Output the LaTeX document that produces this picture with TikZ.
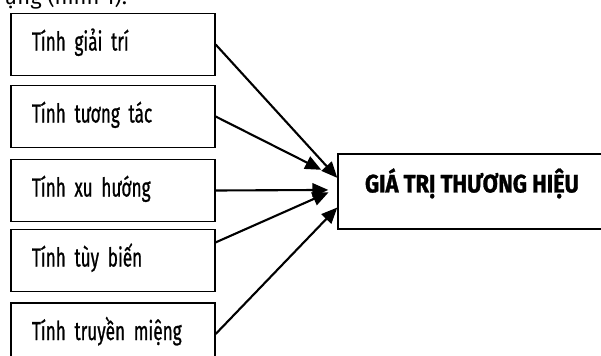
\documentclass[tikz,border=0pt]{standalone}
\usepackage{fontspec}
\setmainfont{Fira Sans}[FakeStretch=0.66, FakeBold=0.8, WordSpace=0.8]
\newfontfamily\plainfont{Fira Sans}
\newfontfamily\titlefont{Fira Sans}[FakeStretch=0.87, FakeBold=1.2]
\usetikzlibrary{arrows.meta,calc}

\tikzset{
	factor/.style={draw, line width=0.9pt, minimum height=1.55cm, text width=4.05cm, inner xsep=0.525cm, align=left, text height=0.45cm, text depth=0.15cm, font=\fontsize{18.5}{20}\selectfont},
	brand/.style={draw, line width=0.9pt, minimum width=6.7cm, minimum height=1.875cm, text height=0.435cm, text depth=0.39cm, font=\titlefont\bfseries\fontsize{17.9}{20}\selectfont},
	link/.style={line width=1.5pt, -{Triangle[length=0.4cm, width=0.34cm]}}
}

\begin{document}
\begin{tikzpicture}[x=0.025cm, y=-0.025cm]
	%%%%% START %%%%%
	
	\clip (0, 0) rectangle (601, 356);
	
	\node[anchor=base west, inner sep=0, font=\plainfont\fontsize{15.6}{18}\selectfont] (caption) at (4, 4) {ựng (hình 1).};
	
	\node[factor] (giaitri) at (113, 44.5) {Tính giải trí};
	\node[factor] (tuongtac) at (113, 116.5) {Tính tương tác};
	\node[factor] (xuhuong) at (113, 190.5) {Tính xu hướng};
	\node[factor] (tuybien) at (113, 260.5) {Tính tùy biến};
	\node[factor] (truyenmieng) at (113, 334) {Tính truyền miệng};
	
	\node[brand] (giatri) at (472, 191.5) {GIÁ TRỊ THƯƠNG HIỆU};
	
	\draw[link] (giaitri.east) -- ([yshift=0.34cm]giatri.west);
	\draw[link, shorten >=0.45cm] (tuongtac.east) -- ([yshift=0.34cm]giatri.west);
	\draw[link, shorten >=0.225cm] (xuhuong.east) -- ([yshift=0.04cm]giatri.west);
	\draw[link, shorten >=0.24cm] (tuybien.10) -- ([yshift=0.075cm]giatri.west);
	\draw[link] (truyenmieng.east) -- ([yshift=-0.4cm]giatri.west);
	
	%%%%% END %%%%%
\end{tikzpicture}
\end{document}
